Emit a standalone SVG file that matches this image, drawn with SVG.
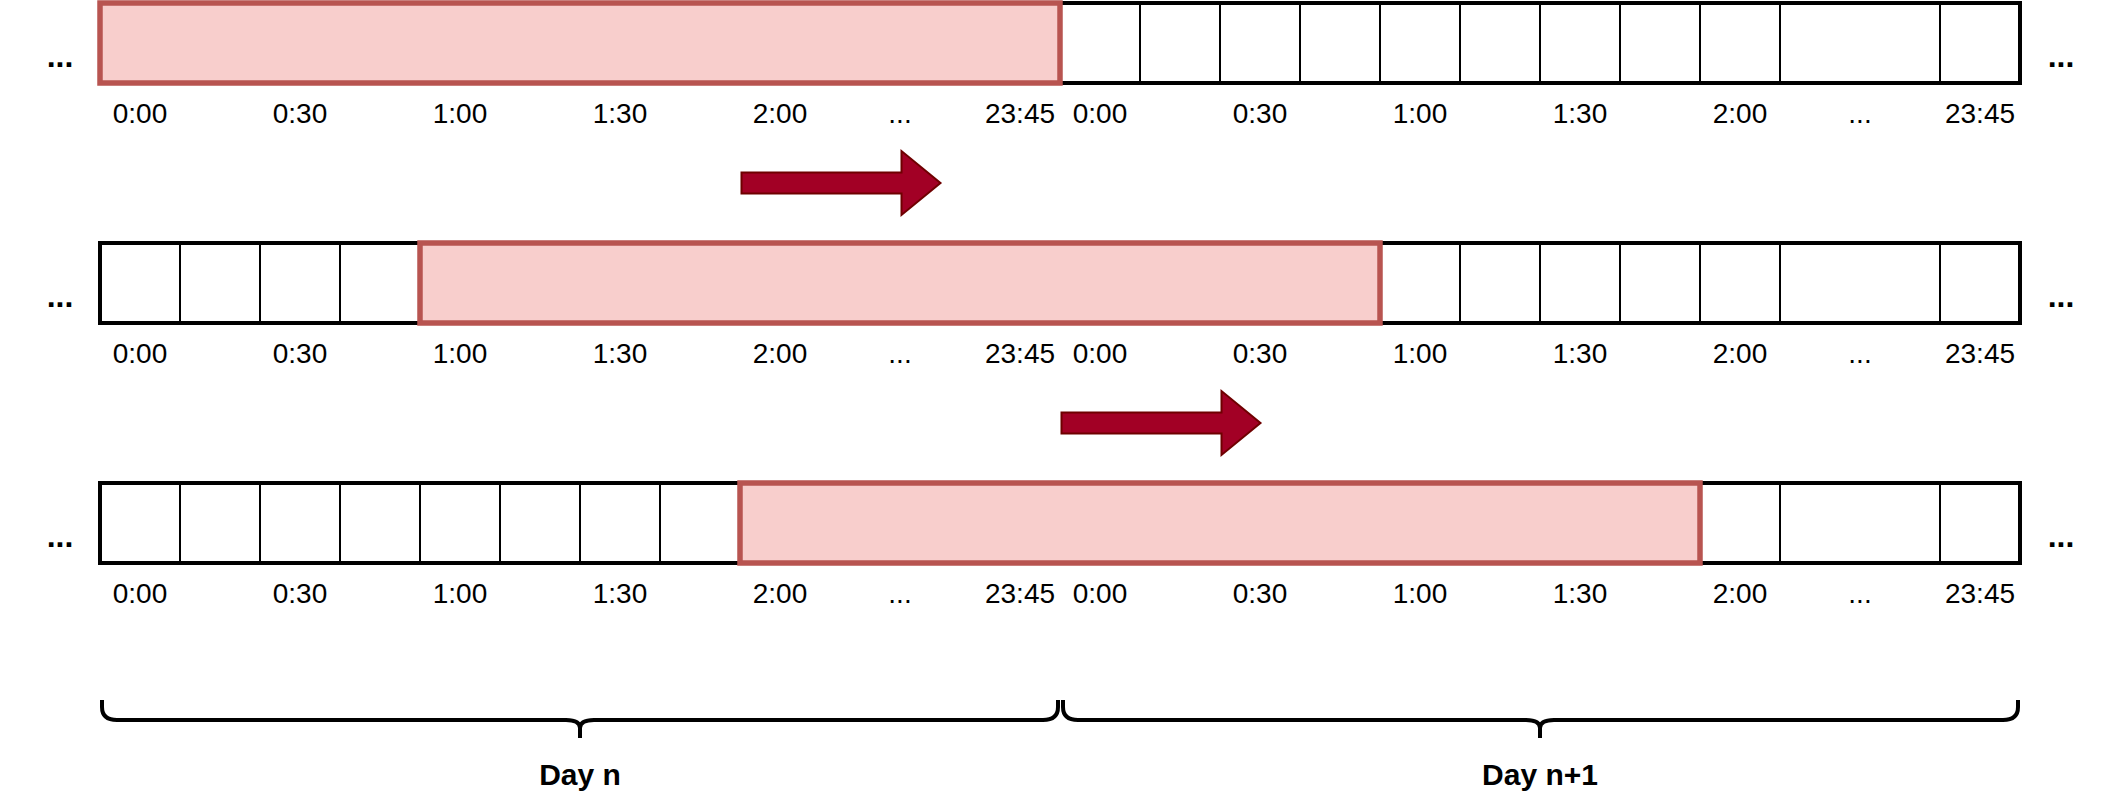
<svg xmlns="http://www.w3.org/2000/svg" width="2122" height="810" viewBox="0 0 2122 810">
<style>
.bar{fill:#ffffff;stroke:#000000;stroke-width:4}
.div{stroke:#000000;stroke-width:2}
.win{fill:#f8cecc;stroke:#b85450;stroke-width:5.5}
.lbl{font-family:"Liberation Sans",Arial,Helvetica,sans-serif;font-size:28px;fill:#000000;text-anchor:middle}
.dots{font-family:"Liberation Sans",Arial,Helvetica,sans-serif;font-size:32px;font-weight:bold;fill:#000000;text-anchor:middle}
.day{font-family:"Liberation Sans",Arial,Helvetica,sans-serif;font-size:30px;font-weight:bold;fill:#000000;text-anchor:middle}
.arrow{fill:#a20025;stroke:#6f0000;stroke-width:2}
.brace{fill:none;stroke:#000000;stroke-width:4;stroke-linejoin:round}
</style>
<defs>
<g id="labels">
<text class="lbl" x="140" y="0">0:00</text>
<text class="lbl" x="300" y="0">0:30</text>
<text class="lbl" x="460" y="0">1:00</text>
<text class="lbl" x="620" y="0">1:30</text>
<text class="lbl" x="780" y="0">2:00</text>
<text class="lbl" x="900" y="0">...</text>
<text class="lbl" x="1020" y="0">23:45</text>
<text class="lbl" x="1100" y="0">0:00</text>
<text class="lbl" x="1260" y="0">0:30</text>
<text class="lbl" x="1420" y="0">1:00</text>
<text class="lbl" x="1580" y="0">1:30</text>
<text class="lbl" x="1740" y="0">2:00</text>
<text class="lbl" x="1860" y="0">...</text>
<text class="lbl" x="1980" y="0">23:45</text>
</g>
<path id="blockArrow" d="M0,-10.5 L160,-10.5 L160,-32 L199,0 L160,32 L160,10.5 L0,10.5 Z"/>
</defs>

<g id="row1">
<rect class="bar" x="100" y="3" width="1920" height="80"/>
<path class="div" d="M1140,3V83M1220,3V83M1300,3V83M1380,3V83M1460,3V83M1540,3V83M1620,3V83M1700,3V83M1780,3V83M1940,3V83"/>
<rect id="window1" class="win" x="100" y="3" width="960" height="80"/>
<text class="dots" x="60" y="67">...</text>
<text class="dots" x="2061" y="67">...</text>
<use href="#labels" y="123"/>
</g>

<g id="row2">
<rect class="bar" x="100" y="243" width="1920" height="80"/>
<path class="div" d="M180,243V323M260,243V323M340,243V323M1460,243V323M1540,243V323M1620,243V323M1700,243V323M1780,243V323M1940,243V323"/>
<rect id="window2" class="win" x="420" y="243" width="960" height="80"/>
<text class="dots" x="60" y="307">...</text>
<text class="dots" x="2061" y="307">...</text>
<use href="#labels" y="363"/>
</g>

<g id="row3">
<rect class="bar" x="100" y="483" width="1920" height="80"/>
<path class="div" d="M180,483V563M260,483V563M340,483V563M420,483V563M500,483V563M580,483V563M660,483V563M1780,483V563M1940,483V563"/>
<rect id="window3" class="win" x="740" y="483" width="960" height="80"/>
<text class="dots" x="60" y="547">...</text>
<text class="dots" x="2061" y="547">...</text>
<use href="#labels" y="603"/>
</g>

<g id="arrow1">
<use href="#blockArrow" class="arrow" x="741.5" y="183"/>
</g>
<g id="arrow2">
<use href="#blockArrow" class="arrow" x="1061.5" y="423"/>
</g>

<g id="braceDayN">
<path class="brace" d="M102,700 L102,707 Q102,720 117,720 L566,720 Q580,720 580,728 L580,738 M580,728 Q580,720 594,720 L1043,720 Q1058,720 1058,707 L1058,700"/>
<text class="day" x="580" y="785">Day n</text>
</g>

<g id="braceDayN1">
<path class="brace" d="M1063,700 L1063,707 Q1063,720 1078,720 L1526,720 Q1540,720 1540,728 L1540,738 M1540,728 Q1540,720 1554,720 L2003,720 Q2018,720 2018,707 L2018,700"/>
<text class="day" x="1540" y="785">Day n+1</text>
</g>

<g id="connectors"/>
</svg>
